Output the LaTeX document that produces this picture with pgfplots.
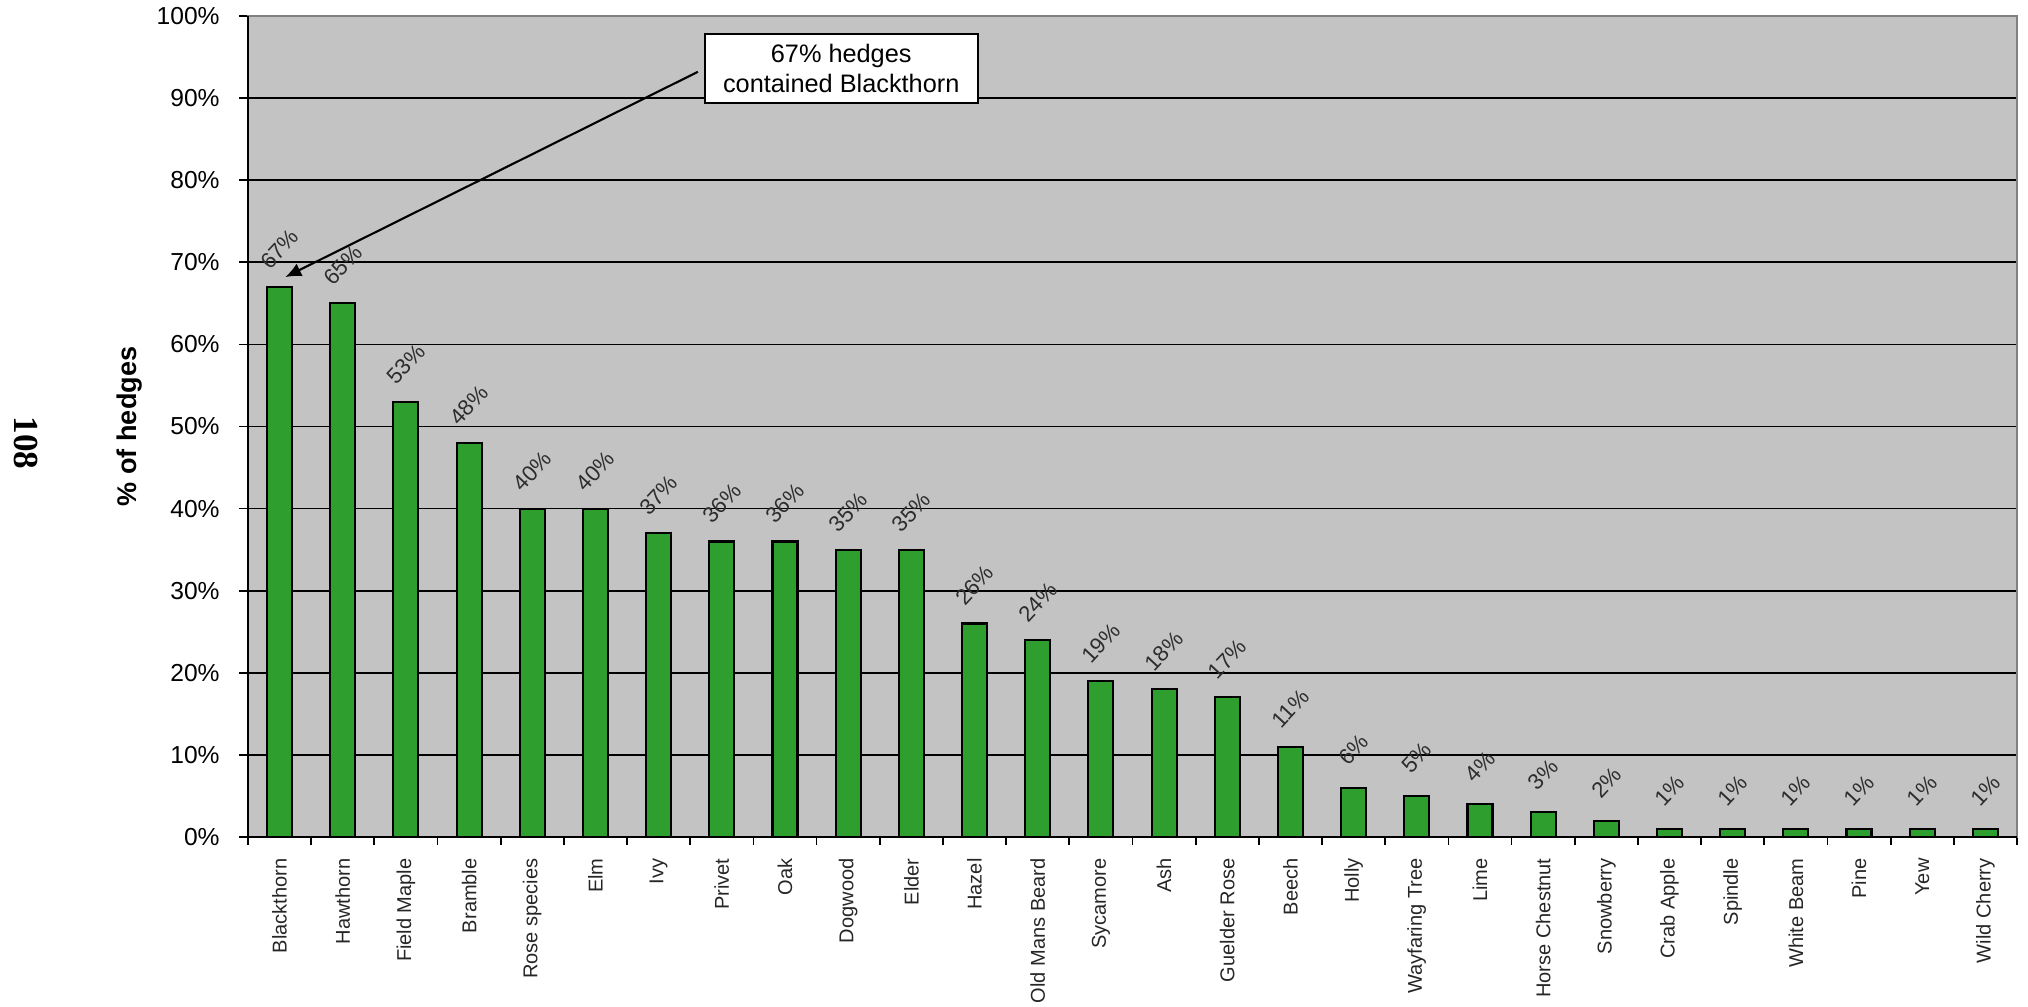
\documentclass[border=0pt]{standalone}
\usepackage{fontspec}
\setmainfont{Liberation Sans}
\newfontfamily\pagenumfont{Liberation Serif}
\usepackage{pgfplots}
\pgfplotsset{compat=1.18}
\usetikzlibrary{arrows.meta}

\definecolor{plotbg}{RGB}{195,195,195}
\definecolor{barGreen}{RGB}{46,158,46}
\definecolor{framegray}{RGB}{128,128,128}
\definecolor{labelgray}{RGB}{45,45,45}

\begin{document}
\begin{tikzpicture}
% page frame: axis box starts 24.8mm from the left and 16.9mm from the bottom
\path[use as bounding box] (-24.8mm,-16.9mm) rectangle (178.0mm,83.7mm);

\begin{axis}[
  at={(0,0)}, anchor=south west,
  scale only axis,
  width=176.9mm, height=82.1mm,
  xmin=-0.5, xmax=27.5,
  ymin=0, ymax=100,
  clip=false,
  axis background/.style={fill=plotbg},
  axis line style={draw=framegray, line width=0.5pt},
  tick pos=left,
  tick align=outside,
  major tick length=0.9mm,
  minor tick length=0.8mm,
  tick style={black, line width=0.5pt},
  major x tick style={draw=none},
  xtick={0,...,27},
  minor xtick={-0.5,0.5,...,27.5},
  xticklabels={Blackthorn, Hawthorn, Field Maple, Bramble, Rose species, Elm, Ivy, Privet, Oak, Dogwood, Elder, Hazel, Old Mans Beard, Sycamore, Ash, Guelder Rose, Beech, Holly, Wayfaring Tree, Lime, Horse Chestnut, Snowberry, Crab Apple, Spindle, White Beam, Pine, Yew, Wild Cherry},
  xticklabel style={rotate=90, anchor=east, font=\fontsize{5.7}{6}\selectfont, text=black!85},
  ytick={0,10,...,100},
  yticklabel={\pgfmathprintnumber{\tick}\%},
  /pgf/number format/assume math mode=true,
  yticklabel style={anchor=east, xshift=-0.7mm, font=\fontsize{7}{8}\selectfont},
  ymajorgrids,
  major grid style={black, line width=0.5pt},
  every axis y label/.style={at={(rel axis cs:0,0.5)}, xshift=-11.8mm, rotate=90, anchor=center},
  ylabel={\bfseries\% of hedges},
  ylabel style={font=\fontsize{7.7}{9}\selectfont},
  nodes near coords={\pgfmathprintnumber{\pgfplotspointmeta}\%},
  every node near coord/.append style={yshift=3.8mm, rotate=47, anchor=center,
      font=\fontsize{6.3}{7}\selectfont, text=labelgray, inner sep=0pt},
]
\addplot[ybar, bar width=2.5mm, fill=barGreen, draw=black, line width=0.6pt, point meta=y]
  coordinates {
  (0,67) (1,65) (2,53) (3,48) (4,40) (5,40) (6,37) (7,36) (8,36) (9,35)
  (10,35) (11,26) (12,24) (13,19) (14,18) (15,17) (16,11) (17,6) (18,5)
  (19,4) (20,3) (21,2) (22,1) (23,1) (24,1) (25,1) (26,1) (27,1)
  };

% left and bottom axis lines in black
\draw[black, line width=0.7pt] (rel axis cs:0,1) -- (rel axis cs:0,0) -- (rel axis cs:1,0);

% callout for the leading species
\draw[black, line width=0.6pt, -{Latex[length=1.6mm,width=1.4mm]}]
  (axis cs:6.62,93.2) -- (axis cs:0.09,68.2);
\node[draw=black, fill=white, line width=0.6pt, align=center,
      minimum width=27.3mm, minimum height=6.9mm, inner sep=0.5mm,
      font=\fontsize{7.2}{8.6}\selectfont]
  at (axis cs:8.89,93.6) {67\% hedges\\contained Blackthorn};
\end{axis}

% page number
\node[rotate=-90, font=\pagenumfont\bfseries\fontsize{10}{12}\selectfont]
  at (-22.2mm,39.4mm) {108};
\end{tikzpicture}
\end{document}
